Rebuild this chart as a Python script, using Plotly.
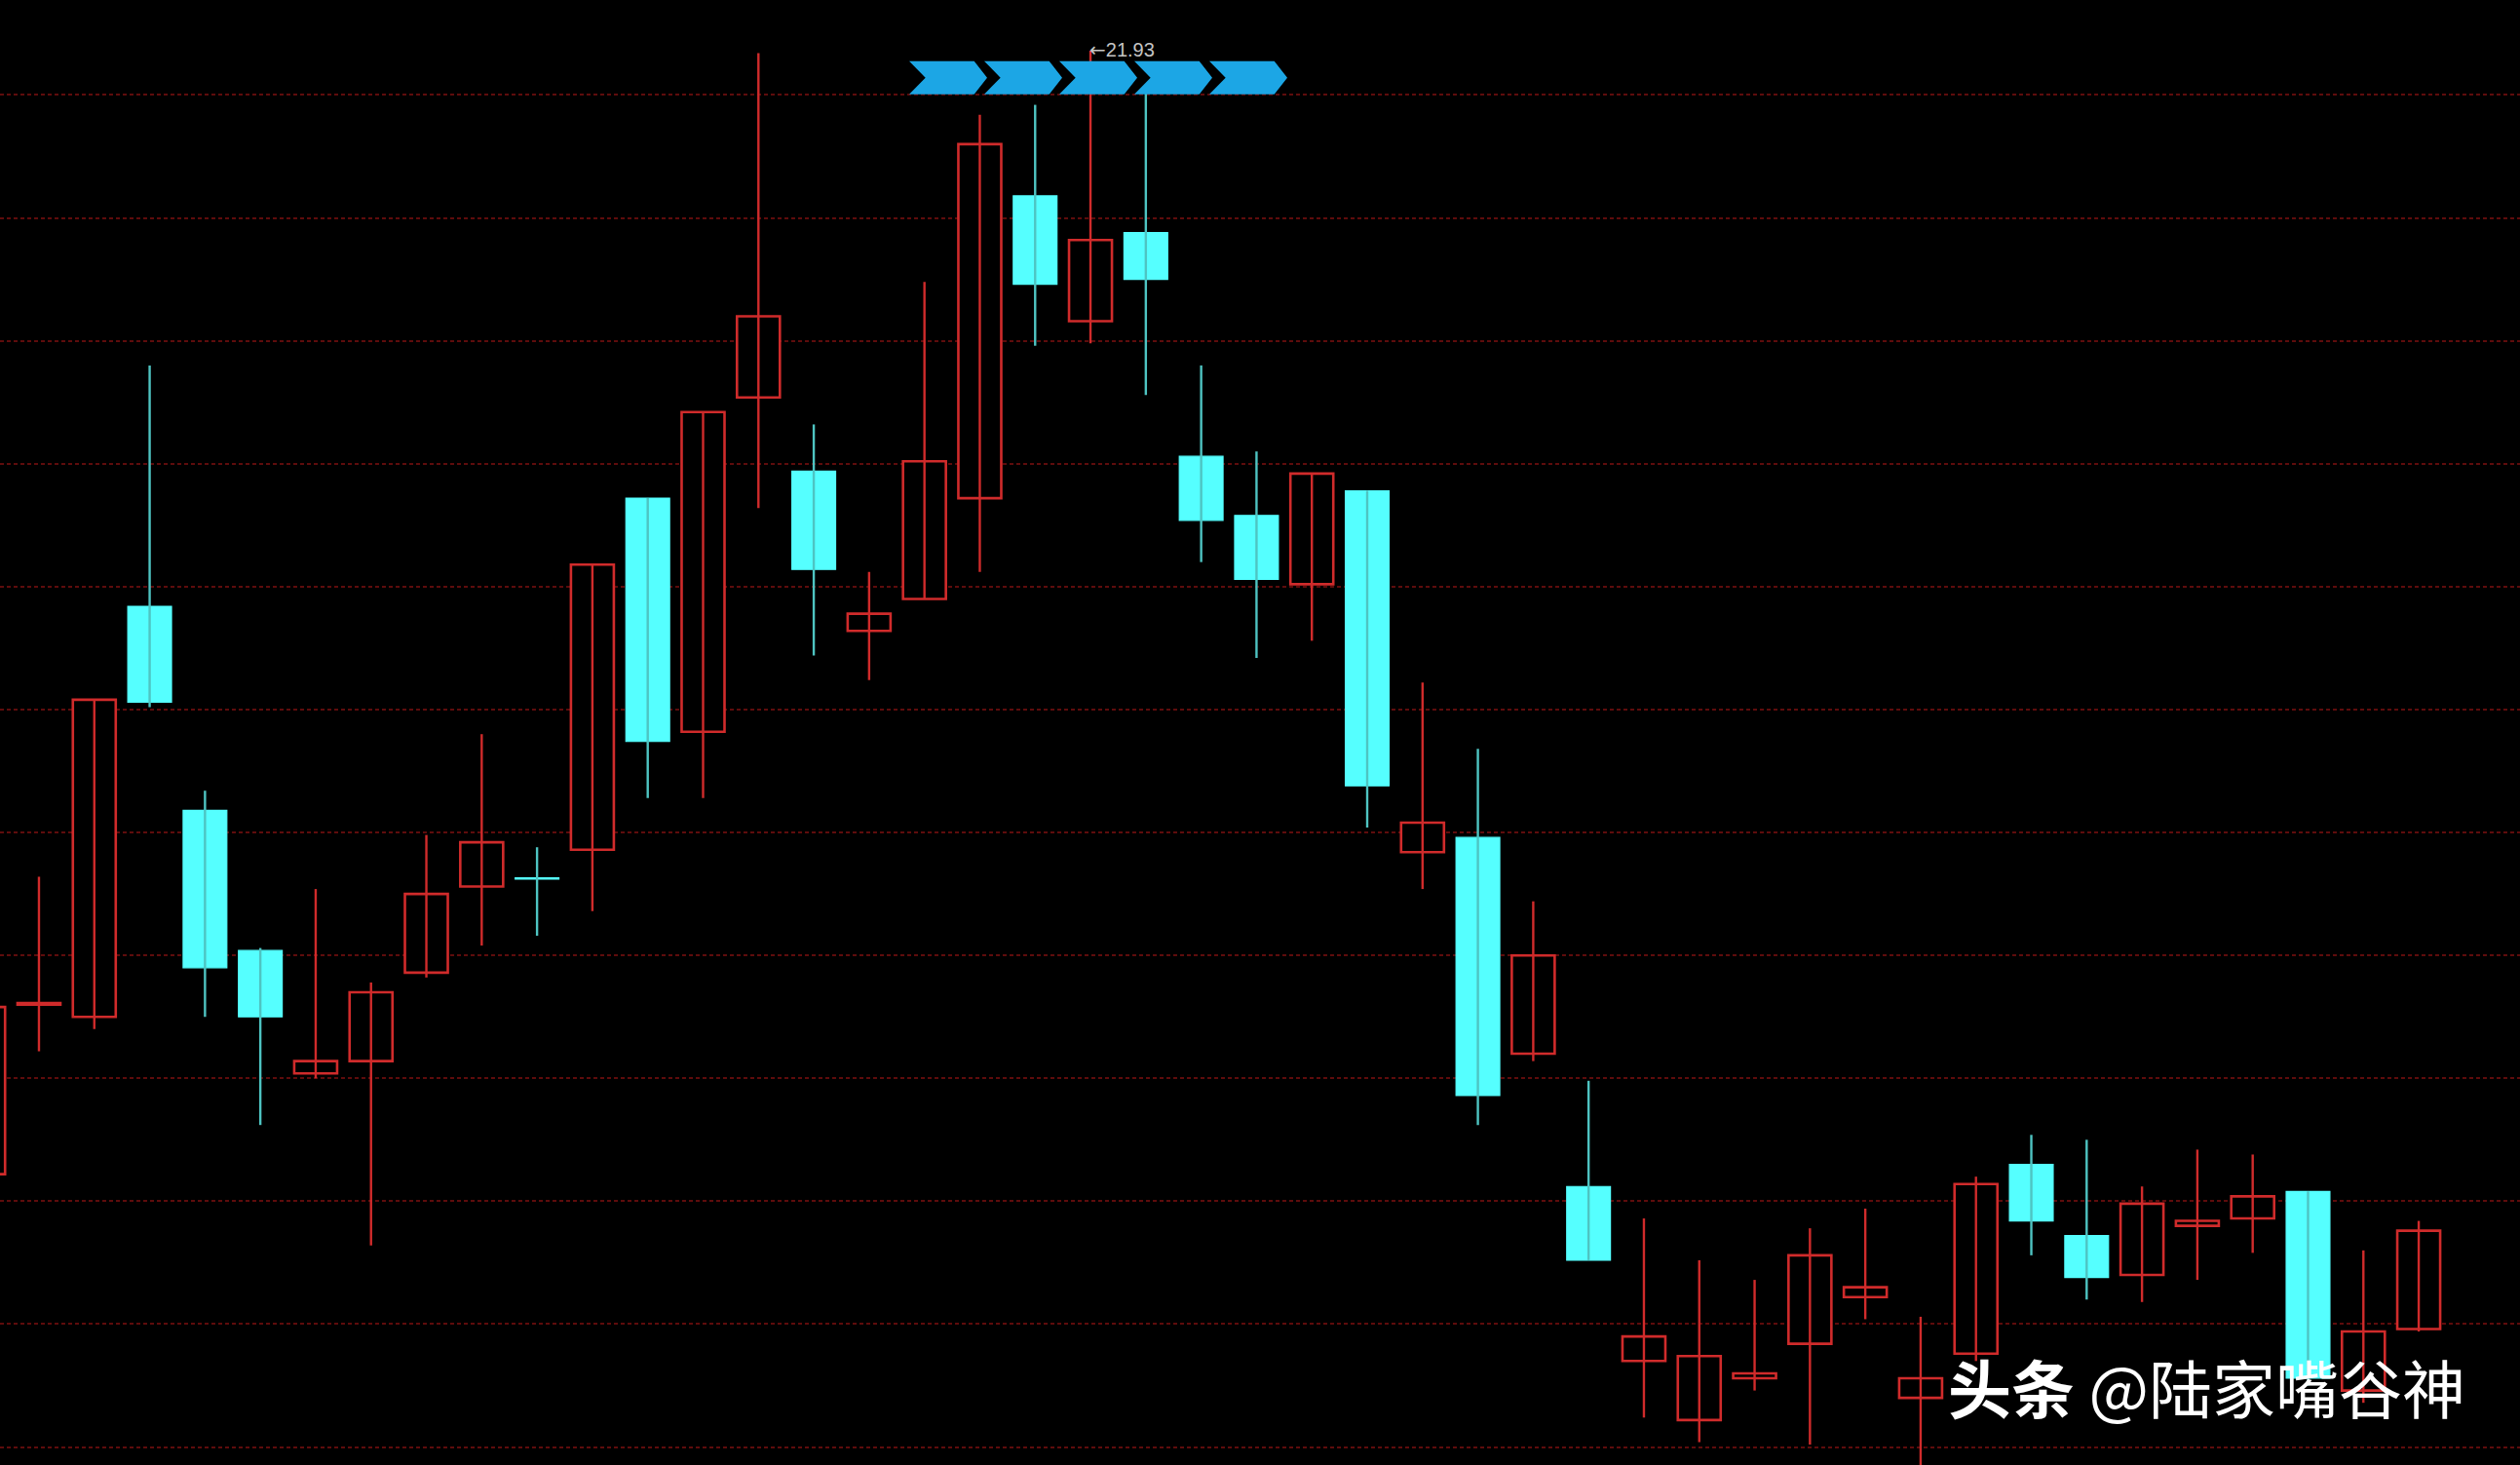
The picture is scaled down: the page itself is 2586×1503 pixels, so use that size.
import plotly.graph_objects as go

# ---- data (price per daily candle) ----
opens  = [17.36, 18.05, 18.00, 19.67, 18.84, 18.27, 17.77, 17.82, 18.18, 18.53,
          18.56, 18.68, 20.11, 19.16, 20.52, 20.22, 19.57, 19.70, 20.11, 21.34,
          20.83, 21.19, 20.28, 20.04, 19.76, 20.14, 18.67, 18.73, 17.85, 17.31,
          16.60, 16.36, 16.53, 16.67, 16.86, 16.45, 16.63, 17.40, 17.11, 16.95,
          17.15, 17.18, 17.29, 16.48, 16.73]
highs  = [18.04, 18.57, 19.29, 20.65, 18.92, 18.28, 18.52, 18.14, 18.74, 19.15,
          18.69, 19.84, 20.11, 20.46, 21.92, 20.41, 19.81, 20.99, 21.67, 21.71,
          21.93, 21.78, 20.65, 20.30, 20.21, 20.14, 19.36, 19.09, 18.47, 17.74,
          17.18, 17.01, 16.93, 17.14, 17.22, 16.78, 17.35, 17.52, 17.50, 17.31,
          17.46, 17.44, 17.29, 17.05, 17.17]
lows   = [17.36, 17.86, 17.95, 19.26, 18.00, 17.56, 17.75, 17.07, 18.16, 18.29,
          18.33, 18.43, 18.89, 18.89, 20.07, 19.47, 19.37, 19.70, 19.81, 20.73,
          20.74, 20.53, 19.85, 19.46, 19.53, 18.77, 18.52, 17.56, 17.82, 17.01,
          16.37, 16.27, 16.48, 16.26, 16.77, 16.10, 16.60, 17.03, 16.85, 16.84,
          16.93, 17.04, 16.50, 16.43, 16.72]
closes = [18.04, 18.05, 19.29, 19.28, 18.20, 18.00, 17.82, 18.10, 18.50, 18.71,
          18.56, 19.84, 19.12, 20.46, 20.85, 19.82, 19.64, 20.26, 21.55, 20.98,
          21.16, 21.00, 20.02, 19.78, 20.21, 18.94, 18.79, 17.68, 18.25, 17.01,
          16.70, 16.62, 16.55, 17.03, 16.90, 16.53, 17.32, 17.17, 16.94, 17.24,
          17.17, 17.27, 16.53, 16.72, 17.13]
grid_levels = [21.75 - 0.5 * k for k in range(12)]
watermark = "<b>头条</b> @陆家嘴谷神"

RED = "#D02B2B"
CYAN = "#55FFFF"
CYAN_WICK = "#4EC4C2"
W, H = 2586, 1503

idx = list(range(len(opens)))
up = []
prev = None
for o, c in zip(opens, closes):
    if c > o:
        u = True
    elif c < o:
        u = False
    else:
        u = True if prev is None else c >= prev
    up.append(u)
    prev = c

def wick_xy(flag):
    xs, ys = [], []
    for i in idx:
        if up[i] == flag:
            xs += [i, i, None]
            ys += [highs[i], lows[i], None]
    return xs, ys

fig = go.Figure()
for flag, col in ((True, RED), (False, CYAN_WICK)):
    xs, ys = wick_xy(flag)
    fig.add_trace(go.Scatter(x=xs, y=ys, mode="lines",
                             line=dict(color=col, width=2.4),
                             hoverinfo="skip", showlegend=False))

min_h = 0.006
for flag in (True, False):
    sel = [i for i in idx if up[i] == flag]
    base = [min(opens[i], closes[i]) for i in sel]
    hgt = [max(abs(closes[i] - opens[i]), min_h) for i in sel]
    if flag:
        marker = dict(color="#000000", line=dict(color=RED, width=2.6))
        width = 0.775
    else:
        marker = dict(color=CYAN, line=dict(color=CYAN, width=1.2))
        width = 0.79
    fig.add_trace(go.Bar(x=sel, y=hgt, base=base, width=width, marker=marker,
                         hoverinfo="skip", showlegend=False))

# chevron signal markers at the top
shapes = []
for j in range(5):
    x0 = 933 + 77 * j
    w, t, n = 80, 13.3, 16.7
    top, bot = 62.7, 96.7
    mid = (top + bot) / 2
    pts = [(x0, top), (x0 + w - t, top), (x0 + w, mid), (x0 + w - t, bot), (x0, bot), (x0 + n, mid)]
    path = "M " + " L ".join(f"{px / W:.5f},{1 - py / H:.5f}" for px, py in pts) + " Z"
    shapes.append(dict(type="path", xref="paper", yref="paper", path=path,
                       fillcolor="#1CA6E5", line=dict(width=0), layer="above"))

imax = max(idx, key=lambda i: highs[i])
annotations = [
    dict(x=imax, y=highs[imax], xref="x", yref="y",
         text=f"<span style='font-family:DejaVu Sans'>←</span>{highs[imax]:.2f}",
         showarrow=False, xanchor="left", yanchor="middle", xshift=-3, yshift=1,
         font=dict(family="Liberation Sans, Arial, sans-serif", size=20, color="#C4C4C4")),
    dict(x=1997 / W, y=1 - 1422 / H, xref="paper", yref="paper", text=watermark,
         showarrow=False, xanchor="left", yanchor="middle",
         font=dict(family="Noto Sans CJK SC", size=65, color="#FFFFFF")),
]

fig.update_layout(
    width=W, height=H, autosize=False,
    margin=dict(l=0, r=0, t=0, b=0, pad=0),
    paper_bgcolor="#000000", plot_bgcolor="#000000",
    barmode="overlay", showlegend=False,
    shapes=shapes, annotations=annotations,
    xaxis=dict(range=[0.296, 45.83], showgrid=False, zeroline=False,
               showticklabels=False, ticks="", showline=False, fixedrange=True),
    yaxis=dict(range=[21.75 - 0.5 * 11.146, 21.75 + 0.5 * 0.773],
               tickmode="array", tickvals=grid_levels, showticklabels=False, ticks="",
               showgrid=True, gridcolor="#5E0C0C", gridwidth=1.6, griddash="4px,3px",
               zeroline=False, showline=False, fixedrange=True),
)

fig.write_html("out.html", config={"displayModeBar": False},
               post_script="document.body.style.margin='0';document.body.style.overflow='hidden';")
